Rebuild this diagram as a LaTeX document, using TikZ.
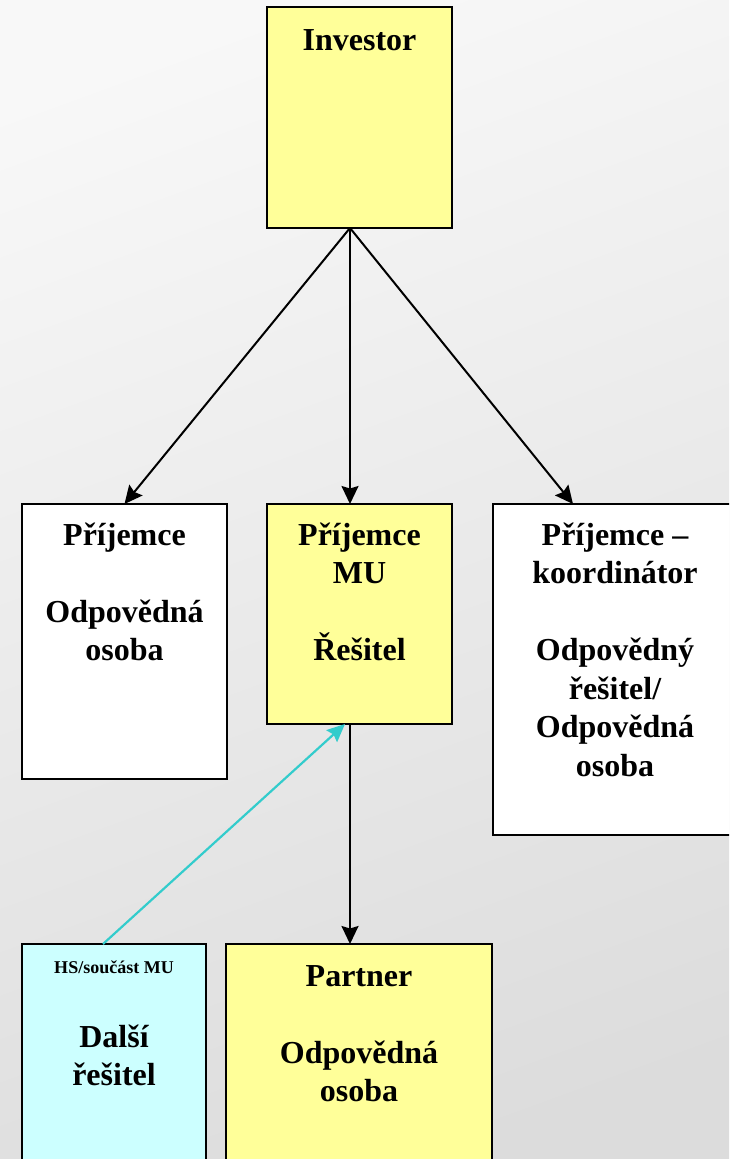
\documentclass[tikz,border=0pt]{standalone}
\usepackage{fontspec}
\setmainfont{Liberation Serif}
\usetikzlibrary{arrows.meta}
\definecolor{yelfill}{HTML}{FFFF99}
\definecolor{cyanfill}{HTML}{CCFFFF}
\definecolor{cyanline}{HTML}{33CCCC}
\definecolor{bglight}{HTML}{F8F8F8}
\definecolor{bgdark}{HTML}{DCDCDC}
\begin{document}
\begin{tikzpicture}[x=1pt,y=-1pt,
  box/.style={draw=black, line width=2pt, inner sep=0pt, outer sep=0pt, anchor=north west},
  yel/.style={box, fill=yelfill},
  wht/.style={box, fill=white},
  cyn/.style={box, fill=cyanfill},
  txt/.style={anchor=north, align=center, inner sep=0pt, font=\fontsize{32}{38.5}\selectfont\bfseries},
  small/.style={anchor=base, inner sep=0pt, font=\fontsize{18}{21}\selectfont\bfseries},
  arr/.style={-{Stealth[length=18pt,width=17pt,inset=2.5pt]}, line width=2pt, draw=black},
  carr/.style={-{Stealth[length=18pt,width=16pt,inset=2.5pt]}, line width=2.2pt, draw=cyanline},
]
\useasboundingbox (0,0) rectangle (729,1159);
\clip (0,0) rectangle (729,1159);
\shade[top color=bglight, bottom color=bgdark, shading angle=20] (-50,-50) rectangle (780,1210);

% boxes
\node[yel, minimum width=185pt, minimum height=221pt] (inv) at (267,7) {};
\node[wht, minimum width=205pt, minimum height=275pt] (p1) at (22,504) {};
\node[yel, minimum width=185pt, minimum height=220pt] (mu) at (267,504) {};
\node[wht, minimum width=244pt, minimum height=331pt] (p3) at (493,504) {};
\node[cyn, minimum width=184pt, minimum height=240pt] (hs) at (22,944) {};
\node[yel, minimum width=266pt, minimum height=240pt] (par) at (226,944) {};

% texts
\node[txt] (tinv) at (359.5,20) {\rule{0pt}{30pt}Investor};
\node[txt] (tp1) at (124.5,515) {\rule{0pt}{30pt}Příjemce\\[38.5pt]Odpovědná\\osoba};
\node[txt] (tmu) at (359.5,515) {\rule{0pt}{30pt}Příjemce\\MU\\[38.5pt]Řešitel};
\node[txt] (tp3) at (615,515) {\rule{0pt}{30pt}Příjemce –\\koordinátor\\[38.5pt]Odpovědný\\řešitel/\\Odpovědná\\osoba};
\node[small] (ths) at (114,973) {HS/součást MU};
\node[txt] (ths2) at (114,1017) {\rule{0pt}{30pt}Další\\řešitel};
\node[txt] (tpar) at (359,956) {\rule{0pt}{30pt}Partner\\[38.5pt]Odpovědná\\osoba};

% connectors
\draw[arr] ([xshift=-9.5pt]inv.south) -- (p1.north);
\draw[arr] ([xshift=-9.5pt]inv.south) -- ([xshift=-9.5pt]mu.north);
\draw[arr] ([xshift=-9.5pt]inv.south) -- ([xshift=-42pt]p3.north);
\draw[arr] ([xshift=-9.5pt]mu.south) -- ([xshift=-9pt]par.north);
\draw[carr] ([xshift=-11pt]hs.north) -- ([xshift=-14.5pt]mu.south);
\end{tikzpicture}
\end{document}
